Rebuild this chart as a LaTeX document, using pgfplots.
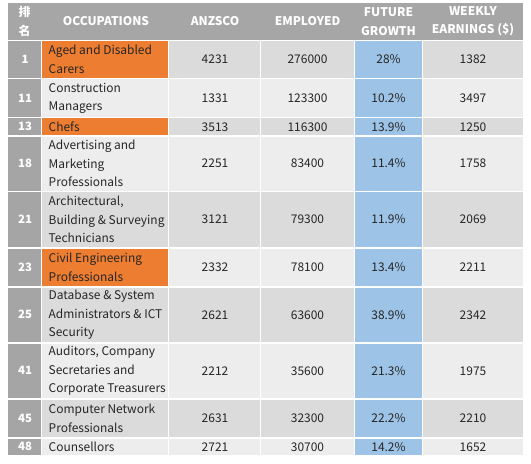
\documentclass[border=0pt]{standalone}
\usepackage{pgfplots}
\pgfplotsset{compat=1.18}
\usepackage{fontspec}
\setmainfont{Noto Sans CJK SC}
\definecolor{hdrgray}{HTML}{A6A6A6}
\definecolor{rankgray}{HTML}{A5A5A5}
\definecolor{orng}{HTML}{ED7D31}
\definecolor{growblue}{HTML}{9DC3E6}
\definecolor{rowdark}{HTML}{DBDBDB}
\definecolor{rowlight}{HTML}{EDEDED}
\definecolor{txt}{HTML}{262626}
\newcommand{\cell}[5]{\addplot[fill=#5, draw=none, mark=none] coordinates {(#1,#3) (#2,#3) (#2,#4) (#1,#4)};}
\newcommand{\row}[9]{%
 \cell{8}{41}{#1}{#2}{rankgray}
 \cell{42}{168}{#1}{#2}{#9}
 \cell{169}{260}{#1}{#2}{#9}
 \cell{261}{354}{#1}{#2}{#9}
 \cell{355}{422}{#1}{#2}{growblue}
 \cell{423}{523}{#1}{#2}{#9}
 \node[text=white, font=\fontsize{11.5}{14}\selectfont\bfseries] at (axis cs:25,{(#1+#2)/2}) {#3};
 \node[anchor=west, align=left, text=txt, inner sep=0pt, font=\fontsize{12}{18.5}\selectfont] at (axis cs:48.5,{(#1+#2)/2}) {#4};
 \node[text=txt, font=\fontsize{12}{14}\selectfont] at (axis cs:215,{(#1+#2)/2}) {#5};
 \node[text=txt, font=\fontsize{12}{14}\selectfont] at (axis cs:307.5,{(#1+#2)/2}) {#6};
 \node[text=txt, font=\fontsize{12}{14}\selectfont] at (axis cs:388.5,{(#1+#2)/2}) {#7};
 \node[text=txt, font=\fontsize{12}{14}\selectfont] at (axis cs:473,{(#1+#2)/2}) {#8};
}
\begin{document}
\begin{tikzpicture}
\begin{axis}[
  width=531bp, height=464bp, scale only axis,
  xmin=0, xmax=531, ymin=0, ymax=464, y dir=reverse,
  hide axis, clip=false]
\cell{0}{531}{0}{464}{white}
% header
\cell{8}{523}{3}{40}{hdrgray}
\node[text=white, font=\fontsize{12}{19}\selectfont\bfseries, align=center] at (axis cs:24.5,21.5) {排\\名};
\node[text=white, font=\fontsize{12}{14}\selectfont\bfseries] at (axis cs:106,21.5) {OCCUPATIONS};
\node[text=white, font=\fontsize{12}{14}\selectfont\bfseries] at (axis cs:215,21.5) {ANZSCO};
\node[text=white, font=\fontsize{12}{14}\selectfont\bfseries] at (axis cs:307.5,21.5) {EMPLOYED};
\node[text=white, font=\fontsize{12}{18.5}\selectfont\bfseries, align=center] at (axis cs:388.5,21.5) {FUTURE\\GROWTH};
\node[text=white, font=\fontsize{12}{18.5}\selectfont\bfseries, align=center] at (axis cs:473,21.5) {WEEKLY\\EARNINGS (\$)};
% rows: ytop, ybot, rank, occupation, anzsco, employed, growth, weekly, row colour
\row{41}{78}{1}{Aged and Disabled\\Carers}{4231}{276000}{28\%}{1382}{rowdark}
\row{79.5}{117}{11}{Construction\\Managers}{1331}{123300}{10.2\%}{3497}{rowlight}
\row{118.5}{135}{13}{Chefs}{3513}{116300}{13.9\%}{1250}{rowdark}
\row{136.5}{190.5}{18}{Advertising and\\Marketing\\Professionals}{2251}{83400}{11.4\%}{1758}{rowlight}
\row{192}{247}{21}{Architectural,\\Building \& Surveying\\Technicians}{3121}{79300}{11.9\%}{2069}{rowdark}
\row{248.5}{286}{23}{Civil Engineering\\Professionals}{2332}{78100}{13.4\%}{2211}{rowlight}
\row{287.5}{342}{25}{Database \& System\\Administrators \& ICT\\Security}{2621}{63600}{38.9\%}{2342}{rowdark}
\row{343.5}{398}{41}{Auditors, Company\\Secretaries and\\Corporate Treasurers}{2212}{35600}{21.3\%}{1975}{rowlight}
\row{399.5}{437}{45}{Computer Network\\Professionals}{2631}{32300}{22.2\%}{2210}{rowdark}
\row{438.5}{455}{48}{Counsellors}{2721}{30700}{14.2\%}{1652}{rowlight}
% orange highlights
\cell{42}{168}{41}{78}{orng}
\cell{42}{168}{118.5}{135}{orng}
\cell{42}{168}{248.5}{286}{orng}
\node[anchor=west, align=left, text=txt, inner sep=0pt, font=\fontsize{12}{18.5}\selectfont] at (axis cs:48.5,59.5) {Aged and Disabled\\Carers};
\node[anchor=west, align=left, text=txt, inner sep=0pt, font=\fontsize{12}{18.5}\selectfont] at (axis cs:48.5,126.75) {Chefs};
\node[anchor=west, align=left, text=txt, inner sep=0pt, font=\fontsize{12}{18.5}\selectfont] at (axis cs:48.5,267.25) {Civil Engineering\\Professionals};
\end{axis}
\end{tikzpicture}
\end{document}
